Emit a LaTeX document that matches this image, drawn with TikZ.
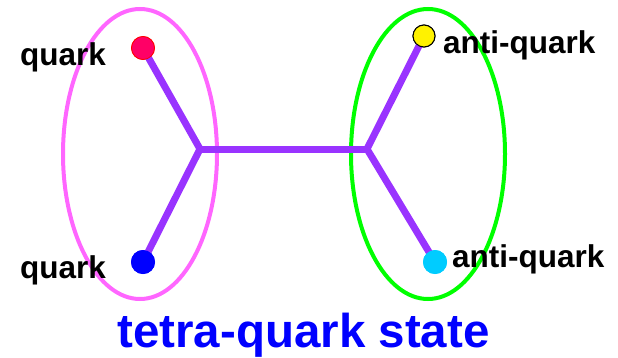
\documentclass[tikz,border=0pt]{standalone}
\usepackage{fontspec}
\setmainfont{Liberation Sans}
\begin{document}
\begin{tikzpicture}[x=1pt,y=1pt,
  lab/.style={font=\fontsize{31.5}{32}\selectfont\bfseries, text=black, inner sep=0pt, anchor=base west},
  bond/.style={draw=purp, line width=7pt},
  ring/.style={line width=4pt},
  dot/.style={circle, inner sep=0pt}]
\definecolor{purp}{HTML}{9933FF}
\definecolor{pinkc}{HTML}{FF66FF}
\definecolor{greenc}{HTML}{00FF00}
\definecolor{redc}{HTML}{FF0066}
\definecolor{cyanc}{HTML}{00CCFF}
\useasboundingbox (0,0) rectangle (618,357);
% ellipses
\draw[ring, pinkc] (140,203) ellipse [x radius=77, y radius=145];
\draw[ring, greenc] (428,203) ellipse [x radius=77, y radius=145];
% labels
\node[lab] (lq1) at (20,291) {quark};
\node[lab] (lq2) at (20,79) {quark};
\node[lab] (la1) at (443,304) {anti-quark};
\node[lab] (la2) at (452,90) {anti-quark};
\node[font=\fontsize{47.5}{48}\selectfont\bfseries, text=blue, inner sep=0pt, anchor=base] (title) at (303.5,10) {tetra-quark state};
% junctions
\coordinate (j1) at (200,208);
\coordinate (j2) at (367,208);
% dots
\node[dot, minimum size=23pt, fill=redc, draw=red, line width=0.8pt] (q1) at (143,309) {};
\node[dot, minimum size=24pt, fill=blue] (q2) at (143,95) {};
\node[dot, minimum size=22pt, fill=yellow, draw=black, line width=1pt] (a1) at (424,321) {};
\node[dot, minimum size=24pt, fill=cyanc] (a2) at (435,95) {};
% bonds
\draw[bond] (q1.center) -- (j1) -- (q2.center);
\draw[bond] (j1) -- (j2);
\draw[bond] (a1.center) -- (j2) -- (a2.center);
% redraw dots on top
\node[dot, minimum size=23pt, fill=redc, draw=red, line width=0.8pt] at (q1) {};
\node[dot, minimum size=24pt, fill=blue] at (q2) {};
\node[dot, minimum size=22pt, fill=yellow, draw=black, line width=1pt] at (a1) {};
\node[dot, minimum size=24pt, fill=cyanc] at (a2) {};
\end{tikzpicture}
\end{document}
